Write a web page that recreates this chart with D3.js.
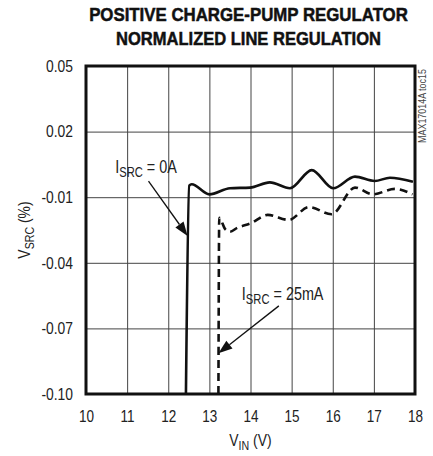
<!DOCTYPE html>
<html>
<head>
<meta charset="utf-8">
<script src="https://cdn.jsdelivr.net/npm/d3@7"></script>
<style>
  body { margin: 0; background: #fff; }
  svg { display: block; }
  text { font-family: "Liberation Sans", Arial, sans-serif; fill: #222; }
  .grid line { stroke: #444; stroke-width: 1; }
  .grid path { display: none; }
  .line { fill: none; stroke: #111; stroke-width: 2.6; }
</style>
</head>
<body>
<div class="graphContainer"></div>
<script>
// x ticks (V_IN) and y ticks (%)
var xTicks = [10, 11, 12, 13, 14, 15, 16, 17, 18];
var yTicks = [0.05, 0.02, -0.01, -0.04, -0.07, -0.10];

// I_SRC = 0A (solid)
var vin0 = [12.43, 12.51, 12.57, 13.0, 13.5, 13.99, 14.47, 14.96, 15.49, 16.01, 16.54, 17.02, 17.39, 17.95];
var vsrc0 = [-0.10, -0.0047, -0.0041, -0.0087, -0.0059, -0.0056, -0.0032, -0.0059, 0.0024, -0.0059, -0.0006, -0.0026, -0.0011, -0.0029];

// I_SRC = 25mA (dashed)
var vin25 = [13.22, 13.24, 13.38, 13.5, 13.68, 14.0, 14.42, 14.93, 15.42, 15.97, 16.54, 16.97, 17.51, 17.94];
var vsrc25 = [-0.10, -0.0194, -0.0245, -0.0258, -0.0240, -0.0220, -0.0181, -0.0204, -0.0145, -0.0178, -0.0056, -0.0087, -0.0062, -0.0087];

// annotations: label anchor, arrow tail, arrow tip (data units)
var labels = ["0A", "25mA"];
var labelPos = [[10.71, 0.0010], [13.79, -0.0570]];
var arrowFrom = [[11.52, -0.0026], [14.69, -0.0597]];
var arrowTo = [[12.47, -0.0277], [13.22, -0.0814]];

var margin = {top: 66, right: 18, bottom: 62, left: 86},
    width = 433 - margin.left - margin.right,
    height = 456 - margin.top - margin.bottom;

var x = d3.scaleLinear().domain([10, 18]).range([0, width]);
var y = d3.scaleLinear().domain([-0.10, 0.05]).range([height, 0]);

var svg = d3.select(".graphContainer")
    .append("svg")
        .attr("width", 433)
        .attr("height", 456);

// text placed at (px,py) and squeezed horizontally, like the narrow face of the original
function narrowText(parent, px, py, k) {
    return parent.append("g")
        .attr("transform", "translate(" + px + "," + py + ") scale(" + k + ",1)")
        .append("text");
}

// title, squeezed to the measured widths
[["POSITIVE CHARGE-PUMP REGULATOR", 21, 319], ["NORMALIZED LINE REGULATION", 45, 265]].forEach(function(t) {
    var gt = svg.append("g");
    var txt = gt.append("text")
        .attr("text-anchor", "middle")
        .style("font-size", "18.5px").style("font-weight", "bold")
        .style("fill", "#111").style("stroke", "#111").style("stroke-width", 0.5)
        .text(t[0]);
    var k = t[2] / txt.node().getComputedTextLength();
    gt.attr("transform", "translate(248.5," + t[1] + ") scale(" + k + ",1)");
});

var g = svg.append("g")
    .attr("transform", "translate(" + margin.left + "," + margin.top + ")");

var fmtY = function(d) { return d3.format(".2f")(d).replace("\u2212", "-"); };

// grid + tick labels
var kx = 0.82, ky = 0.84;
g.append("g")
    .attr("class", "grid")
    .attr("transform", "translate(0," + height + ")")
    .call(d3.axisBottom(x).tickValues(xTicks).tickSizeInner(-height).tickSizeOuter(0).tickPadding(16)
        .tickFormat(d3.format("d")))
    .call(function(s) {
        s.selectAll("text").style("font-size", "16.5px").style("font-family", null)
            .attr("transform", "scale(" + kx + ",1)");
    });

g.append("g")
    .attr("class", "grid")
    .call(d3.axisLeft(y).tickValues(yTicks).tickSizeInner(-width).tickSizeOuter(0).tickPadding(13)
        .tickFormat(fmtY))
    .call(function(s) {
        s.selectAll("text").style("font-size", "16.5px").style("font-family", null)
            .attr("x", -13 / ky)
            .attr("transform", "scale(" + ky + ",1)");
    });

// frame
g.append("rect")
    .attr("width", width).attr("height", height)
    .attr("fill", "none").attr("stroke", "#111").attr("stroke-width", 3);

// curves
var line = d3.line()
    .x(function(d) { return x(d[0]); })
    .y(function(d) { return y(d[1]); })
    .curve(d3.curveMonotoneX);

g.append("path")
    .attr("class", "line")
    .attr("d", line(d3.zip(vin0, vsrc0)));

g.append("path")
    .attr("class", "line")
    .attr("stroke-dasharray", "8,5")
    .attr("d", line(d3.zip(vin25, vsrc25)));

// annotations
labels.forEach(function(lbl, i) {
    var t = narrowText(g, x(labelPos[i][0]), y(labelPos[i][1]), 0.8)
        .style("font-size", "18px");
    t.append("tspan").text("I");
    t.append("tspan").attr("dy", 4).style("font-size", "14px").text("SRC");
    t.append("tspan").attr("dy", -4).text(" = " + lbl);

    var x1 = x(arrowFrom[i][0]), y1 = y(arrowFrom[i][1]),
        x2 = x(arrowTo[i][0]), y2 = y(arrowTo[i][1]);
    var a = Math.atan2(y2 - y1, x2 - x1), len = 14, w = 5;
    var bx = x2 - len * Math.cos(a), by = y2 - len * Math.sin(a);
    g.append("line")
        .attr("x1", x1).attr("y1", y1).attr("x2", bx).attr("y2", by)
        .attr("stroke", "#111").attr("stroke-width", 1.3);
    g.append("path")
        .attr("d", "M" + x2 + "," + y2 +
            "L" + (bx + w * Math.sin(a)) + "," + (by - w * Math.cos(a)) +
            "L" + (bx - w * Math.sin(a)) + "," + (by + w * Math.cos(a)) + "Z")
        .attr("fill", "#111");
});

// axis titles
var yl = svg.append("g")
    .attr("transform", "translate(30," + (margin.top + height / 2) + ") rotate(-90) scale(0.82,1)")
    .append("text")
    .attr("text-anchor", "middle")
    .style("font-size", "17px");
yl.append("tspan").text("V");
yl.append("tspan").attr("dy", 4).style("font-size", "13px").text("SRC");
yl.append("tspan").attr("dy", -4).text(" (%)");

var xl = narrowText(svg, margin.left + width / 2, 446, 0.82)
    .attr("text-anchor", "middle")
    .style("font-size", "17px");
xl.append("tspan").text("V");
xl.append("tspan").attr("dy", 4).style("font-size", "13px").text("IN");
xl.append("tspan").attr("dy", -4).text(" (V)");

// part code on the right
svg.append("g")
    .attr("transform", "translate(426,106) rotate(-90) scale(0.85,1)")
    .append("text")
    .attr("text-anchor", "middle")
    .style("font-size", "10.5px").style("fill", "#444")
    .text("MAX17014A toc15");
</script>
</body>
</html>
